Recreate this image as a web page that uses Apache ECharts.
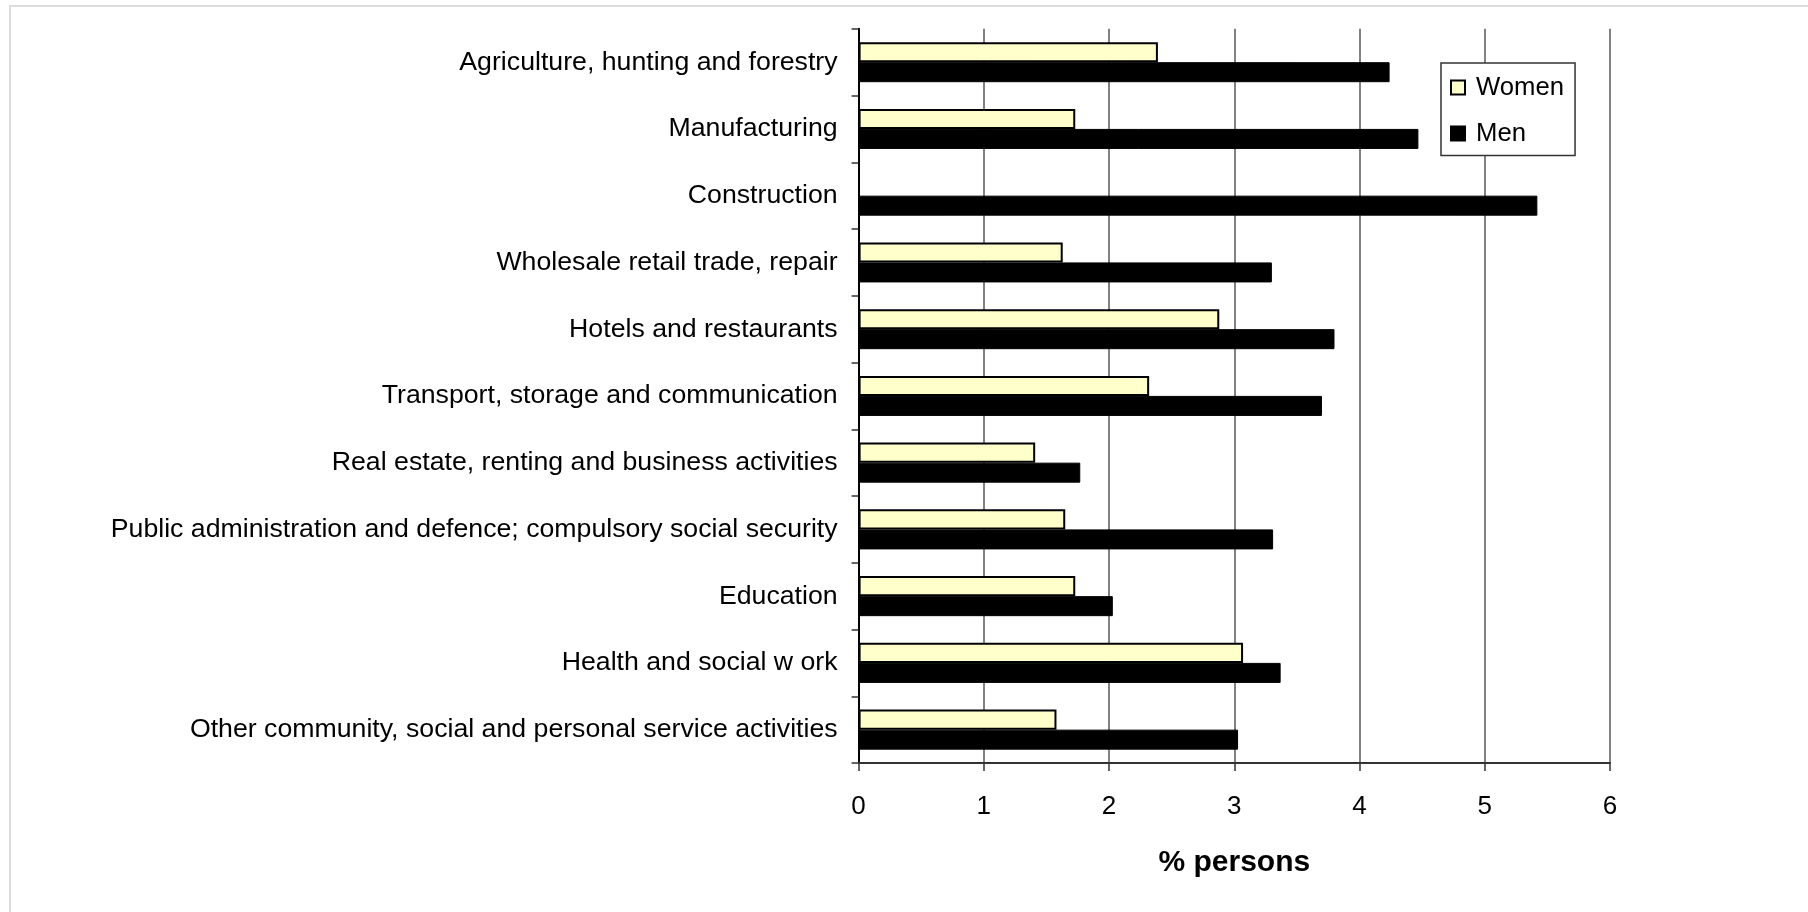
<!DOCTYPE html>
<html>
<head>
<meta charset="utf-8">
<script src="https://cdn.jsdelivr.net/npm/echarts@6/dist/echarts.min.js"></script>
<style>
html,body{margin:0;padding:0;background:#fff;}
#chart{width:1808px;height:912px;}
</style>
</head>
<body>
<div id="chart"></div>
<script>
const categories = [
  "Agriculture, hunting and forestry",
  "Manufacturing",
  "Construction",
  "Wholesale retail trade, repair",
  "Hotels and restaurants",
  "Transport, storage and communication",
  "Real estate, renting and business activities",
  "Public administration and defence; compulsory social security",
  "Education",
  "Health and social w ork",
  "Other community, social and personal service activities"
];
const women = [2.39, 1.73, null, 1.63, 2.88, 2.32, 1.41, 1.65, 1.73, 3.07, 1.58];
const men   = [4.24, 4.47, 5.42, 3.30, 3.80, 3.70, 1.77, 3.31, 2.03, 3.37, 3.03];
const xTicks = [0, 1, 2, 3, 4, 5, 6];
const axisTitle = "% persons";

const FONT = '"Liberation Sans", Arial, sans-serif';
const chart = echarts.init(document.getElementById('chart'), null, {renderer: 'canvas'});
chart.setOption({
  backgroundColor: '#ffffff',
  animation: false,
  graphic: [{
    type: 'rect',
    shape: {x: 10, y: 6, width: 1900, height: 1000},
    style: {fill: 'none', stroke: '#dcdcdc', lineWidth: 2},
    silent: true
  }],
  grid: {left: 858.6, right: 198, top: 28.8, bottom: 149, containLabel: false},
  legend: {
    orient: 'vertical',
    left: 1441,
    top: 63,
    padding: [11.5, 11, 9, 9],
    itemWidth: 14,
    itemHeight: 14,
    itemGap: 20,
    icon: 'rect',
    borderColor: '#333',
    borderWidth: 1.5,
    backgroundColor: '#fff',
    textStyle: {fontFamily: FONT, fontSize: 25.7, color: '#000', padding: [0, 0, 0, 6]},
    data: ['Women', 'Men']
  },
  xAxis: {
    type: 'value',
    min: xTicks[0],
    max: xTicks[xTicks.length - 1],
    interval: 1,
    name: axisTitle,
    nameLocation: 'middle',
    nameGap: 85,
    nameTextStyle: {fontFamily: FONT, fontSize: 30, fontWeight: 'bold', color: '#000'},
    axisLine: {show: true, lineStyle: {color: '#333', width: 2}},
    axisTick: {show: true, length: 8, lineStyle: {color: '#333', width: 1.5}},
    axisLabel: {fontFamily: FONT, fontSize: 26, color: '#000', margin: 31},
    splitLine: {show: true, lineStyle: {color: '#595959', width: 1.5}}
  },
  yAxis: {
    type: 'category',
    inverse: true,
    data: categories,
    axisLine: {show: true, lineStyle: {color: '#000', width: 2}},
    axisTick: {show: true, length: 7, inside: false, alignWithLabel: false, lineStyle: {color: '#333', width: 1.5}},
    axisLabel: {fontFamily: FONT, fontSize: 26.7, color: '#000', margin: 21},
    splitLine: {show: false}
  },
  series: [
    {
      name: 'Women',
      type: 'bar',
      data: women,
      barGap: '0%',
      barCategoryGap: '40%',
      itemStyle: {color: '#ffffcc', borderColor: '#000', borderWidth: 2}
    },
    {
      name: 'Men',
      type: 'bar',
      data: men,
      barGap: '0%',
      barCategoryGap: '40%',
      itemStyle: {color: '#000000', borderColor: '#000', borderWidth: 1}
    }
  ]
});
</script>
</body>
</html>
